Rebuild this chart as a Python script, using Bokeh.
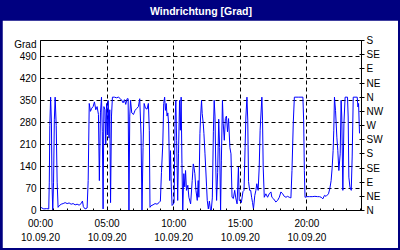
from bokeh.plotting import figure
from bokeh.layouts import column
from bokeh.models import Range1d, FixedTicker, LinearAxis, Label
from bokeh.embed import file_html
from bokeh.resources import INLINE

TITLE = "Windrichtung [Grad]"
Y_UNIT = "Grad"
X_TICKS = [0, 5, 10, 15, 20]
X_LABELS = ["00:00\n10.09.20", "05:00\n10.09.20", "10:00\n10.09.20",
            "15:00\n10.09.20", "20:00\n10.09.20"]
Y_TICKS = [0, 70, 140, 210, 280, 350, 420, 490]
DIR_TICKS = [0, 45, 90, 135, 180, 225, 270, 315, 360, 405, 450, 495, 540]
DIR_LABELS = ["N", "NE", "E", "SE", "S", "SW", "W", "NW", "N", "NE", "E", "SE", "S"]

# time of day in hours, wind direction in degrees
HOURS = [
    0.00, 0.10, 0.25, 0.45, 0.62, 0.66, 0.70, 0.76, 0.82, 0.86, 0.92, 0.98, 1.04, 1.10, 1.18, 1.25, 1.32,
    1.40, 1.55, 1.70, 1.85, 2.00, 2.15, 2.30, 2.45, 2.60, 2.75, 2.90, 3.05, 3.15, 3.22, 3.35, 3.50,
    3.58, 3.66, 3.75, 3.85, 3.95, 4.05, 4.15, 4.25, 4.35, 4.42, 4.50, 4.58, 4.64, 4.70, 4.76, 4.84,
    4.90, 4.96, 5.02, 5.08, 5.14, 5.20, 5.26, 5.33, 5.40, 5.55, 5.70, 5.85, 6.00, 6.10, 6.20, 6.30,
    6.40, 6.50, 6.58, 6.64, 6.70, 6.76, 6.85, 6.98, 7.10, 7.22, 7.35, 7.45, 7.55, 7.62, 7.70, 7.78,
    7.88, 8.00, 8.10, 8.17, 8.22,
    8.30, 8.45, 8.60, 8.75, 8.90, 9.00,
    9.08, 9.18, 9.25, 9.32, 9.38, 9.44, 9.50, 9.56, 9.62, 9.70, 9.76, 9.82, 9.88, 9.96, 10.03, 10.10,
    10.16, 10.22, 10.30, 10.36, 10.44, 10.50, 10.56, 10.62, 10.68, 10.76, 10.83, 10.89, 10.96, 11.06,
    11.14, 11.27, 11.39, 11.47, 11.52, 11.59, 11.67, 11.77, 11.84, 11.89, 11.97, 12.02, 12.09, 12.14,
    12.22, 12.27, 12.35, 12.40, 12.47, 12.52, 12.60,
    12.68, 12.75, 12.82, 12.90, 12.98, 13.04, 13.10, 13.16, 13.22, 13.30, 13.38, 13.45, 13.52, 13.58,
    13.66, 13.72, 13.80, 13.88, 13.96, 14.04, 14.12, 14.22, 14.30, 14.38, 14.48, 14.58, 14.66, 14.76,
    14.86, 14.92, 15.00, 15.08, 15.20, 15.28, 15.36, 15.42, 15.50, 15.56, 15.62, 15.70, 15.78, 15.85,
    15.92, 15.99, 16.09, 16.17, 16.24, 16.34, 16.42, 16.49, 16.54, 16.62, 16.67, 16.72, 16.80,
    16.92, 17.05, 17.17, 17.30, 17.37, 17.50, 17.67, 17.80, 17.93, 18.05, 18.18, 18.30, 18.43, 18.55,
    18.68, 18.80, 18.88, 18.98, 19.06, 19.35, 19.70, 19.76, 19.81, 19.86, 20.00, 20.20, 20.40, 20.60,
    20.80, 20.94, 21.07, 21.20, 21.32, 21.44, 21.62, 21.72, 21.82, 21.90, 21.97, 22.02, 22.07, 22.15,
    22.25, 22.32, 22.40, 22.50, 22.57, 22.62, 22.70, 22.78, 22.87, 23.05, 23.10, 23.15, 23.23, 23.33,
    23.40, 23.48, 23.78, 23.83, 23.88, 23.95,
]
DEG = [
    12, 8, 5, 6, 5, 90, 270, 360, 280, 90, 0, 90, 290, 360, 270, 90, 10,
    15, 20, 22, 25, 22, 24, 20, 22, 18, 20, 17, 22, 30, 12, 5, 8,
    95, 340, 315, 325, 330, 345, 320, 330, 305, 95, 310, 360, 250, 5, 330, 320,
    210, 340, 240, 350, 230, 320, 25, 300, 360, 360, 358, 360, 355, 350, 342, 352,
    337, 355, 355, 0, 300, 350, 310, 305, 318, 324, 330, 355, 240, 0, 200, 340,
    325, 322, 340, 255, 10,
    15, 18, 22, 20, 25, 30,
    120, 210, 340, 360, 318, 340, 300, 310, 275, 95, 190, 75, 16, 20, 25, 276,
    350, 223, 32, 180, 350, 255, 360, 150, 0, 117, 75, 127, 64, 80,
    42, 21, 95, 148, 138, 117, 64, 32, 95, 42, 244, 297, 350, 308,
    276, 244, 180, 138, 75, 32, 5,
    30, 5, 0, 40, 250, 350, 300, 137, 32, 120, 290, 200, 0, 160,
    350, 276, 223, 292, 300, 250, 292, 200, 180, 42, 38, 64, 40, 21,
    138, 32, 30, 25, 60, 64, 200, 297, 360, 287, 92, 64, 64, 42,
    25, 5, 48, 64, 85, 64, 138, 255, 297, 360, 287, 138, 42,
    53, 42, 53, 59, 42, 37, 27, 32, 42, 59, 53, 45, 42, 45,
    42, 40, 127, 281, 360, 360, 360, 281, 127, 42, 44, 44, 44, 45,
    44, 44, 42, 37, 48, 45, 53, 69, 95, 138, 191, 255, 360, 318,
    233, 191, 127, 180, 350, 297, 64, 276, 360, 360, 297, 106, 75, 64,
    170, 360, 360, 329, 340, 245,
]

NAVY = "#000080"
FONT = "Liberation Sans"

bar = figure(width=400, height=20, x_range=Range1d(0, 1), y_range=Range1d(0, 1),
             toolbar_location=None, output_backend="svg", min_border=0,
             x_axis_location=None, y_axis_location=None)
bar.grid.visible = False
bar.background_fill_color = NAVY
bar.border_fill_color = NAVY
bar.outline_line_color = None
bar.add_layout(Label(x=0.5, y=0.5, text=TITLE, text_align="center", text_baseline="middle",
                     text_color="white", text_font_style="bold", text_font_size="10.5px",
                     text_font=FONT))

p = figure(width=396, height=228, x_range=Range1d(0, 24.1), y_range=Range1d(0, 540),
           toolbar_location=None, output_backend="svg",
           min_border_left=38, min_border_right=37, min_border_top=20, min_border_bottom=38,
           margin=(0, 2, 2, 2))
p.background_fill_color = "white"
p.border_fill_color = "white"
p.outline_line_color = "black"

p.line(HOURS, DEG, line_color="#0000ff", line_width=1)

xa = p.xaxis[0]
xa.ticker = FixedTicker(ticks=X_TICKS, minor_ticks=list(range(0, 25)))
xa.major_label_overrides = dict(zip(X_TICKS, X_LABELS))
xa.major_tick_in = 3
xa.major_tick_out = 0
xa.minor_tick_in = 2
xa.minor_tick_out = 0
xa.major_label_standoff = 7
xa.major_label_text_line_height = 1.35

# left axis: numeric ticks plus the unit written where the top tick would be
UNIT_POS = 526
ya = p.yaxis[0]
ya.ticker = FixedTicker(ticks=Y_TICKS + [UNIT_POS])
ya.major_label_overrides = {UNIT_POS: Y_UNIT}
ya.major_tick_in = 0
ya.major_tick_out = 0
ya.minor_tick_line_color = None
ya.major_label_standoff = 4

ra = LinearAxis(ticker=FixedTicker(ticks=DIR_TICKS),
                major_label_overrides=dict(zip(DIR_TICKS, DIR_LABELS)))
ra.major_tick_in = 2
ra.major_tick_out = 3
ra.minor_tick_line_color = None
ra.major_label_standoff = 2
p.add_layout(ra, "right")

for ax in (xa, ya, ra):
    ax.axis_line_color = "black"
    ax.major_tick_line_color = "black"
    ax.major_label_text_font = FONT
    ax.major_label_text_font_size = "10px"
    ax.major_label_text_color = "black"
xa.minor_tick_line_color = "black"

p.xgrid.ticker = FixedTicker(ticks=X_TICKS)
p.ygrid.ticker = FixedTicker(ticks=Y_TICKS)
for g in (p.xgrid[0], p.ygrid[0]):
    g.grid_line_color = "black"
    g.grid_line_dash = "4 3"
    g.grid_line_width = 1
    g.grid_line_alpha = 1

layout = column(bar, p, spacing=0, styles={"background-color": NAVY})
open("out.html", "w").write(file_html(layout, INLINE))
